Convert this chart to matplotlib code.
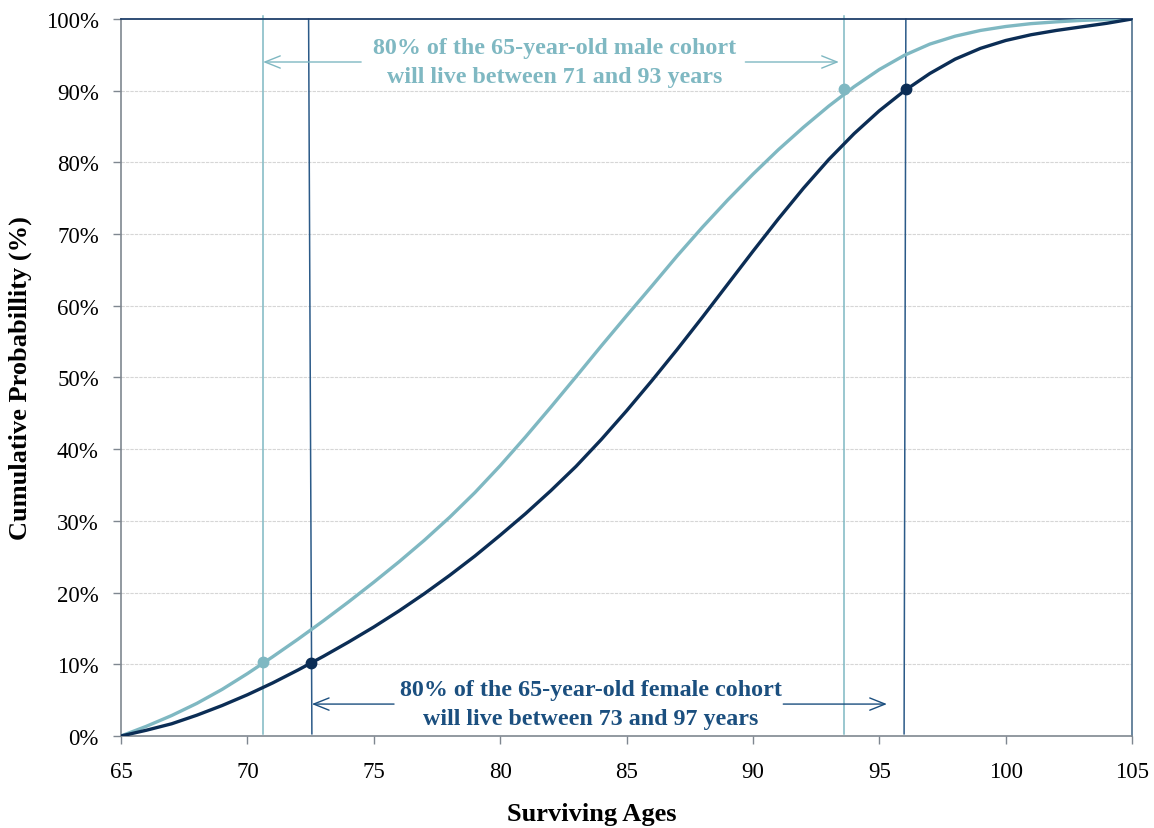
import numpy as np
import matplotlib.pyplot as plt
from matplotlib.ticker import FuncFormatter

plt.rcParams["font.family"] = ["Liberation Serif", "DejaVu Serif"]

LIGHT = "#7fb8c2"      # male cohort
DARK = "#0b2d55"       # female cohort
DARK_LINE = "#2b5a88"
FEMALE_TXT = "#1b4f7f"
GREY = "#7f8790"

ages = np.arange(65, 106)

male_cdf = [0.0, 1.35, 2.85, 4.55, 6.5, 8.7, 11.05, 13.5, 16.05, 18.7,
            21.45, 24.3, 27.3, 30.5, 33.95, 37.7, 41.7, 45.85, 50.1, 54.4,
            58.6, 62.75, 66.95, 70.95, 74.75, 78.35, 81.75, 84.9, 87.85, 90.55,
            92.95, 94.95, 96.5, 97.6, 98.4, 98.95, 99.35, 99.6, 99.8, 99.92,
            100.0]

female_cdf = [0.0, 0.8, 1.7, 2.9, 4.25, 5.75, 7.4, 9.2, 11.1, 13.1,
              15.2, 17.45, 19.85, 22.4, 25.1, 28.0, 31.0, 34.2, 37.6, 41.35,
              45.35, 49.55, 53.9, 58.4, 63.0, 67.6, 72.1, 76.4, 80.4, 84.0,
              87.2, 90.0, 92.4, 94.4, 95.9, 97.0, 97.8, 98.4, 98.9, 99.4,
              100.0]

male_pts_x = [70.6, 93.6]
male_pts_y = [10.3, 90.2]
female_pts_x = [72.5, 96.05]
female_pts_y = [10.2, 90.2]

# 10th / 90th percentile markers (bottom age, top age)
male_vlines = [(70.6, 70.6), (93.6, 93.6)]
female_vlines = [(72.55, 72.42), (95.98, 96.05)]

fig = plt.figure(figsize=(11.54, 8.29), dpi=100)
ax = fig.add_axes([0.1049, 0.111, 0.8761, 0.8649])

ax.set_xlim(65, 105)
ax.set_ylim(0, 100)
ax.set_xticks(range(65, 106, 5))
ax.set_yticks(range(0, 101, 10))
ax.yaxis.set_major_formatter(FuncFormatter(lambda v, p: f"{v:.0f}%"))

for y in range(10, 100, 10):
    ax.axhline(y, color="#d6d6d6", lw=0.8, ls=(0, (3, 1)), zorder=0)

for x0, x1 in male_vlines:
    ax.plot([x0, x1], [0.3, 100.4], color=LIGHT, lw=1.1, clip_on=False, zorder=2)
for x0, x1 in female_vlines:
    ax.plot([x0, x1], [0.3, 100.0], color=DARK_LINE, lw=1.1, clip_on=False, zorder=2)

ax.plot(ages, male_cdf, color=LIGHT, lw=2.4, zorder=3, solid_joinstyle="round")
ax.plot(ages, female_cdf, color=DARK, lw=2.4, zorder=4, solid_joinstyle="round")
ax.plot(male_pts_x, male_pts_y, "o", color=LIGHT, ms=7.5, zorder=5)
ax.plot(female_pts_x, female_pts_y, "o", color=DARK, ms=7.5, zorder=5)

# annotations
arrow_kw = dict(arrowstyle="->,head_length=0.5,head_width=0.2", lw=1.0,
                mutation_scale=22, shrinkA=0, shrinkB=0)
ax.annotate("", xy=(70.62, 94.0), xytext=(74.5, 94.0),
            arrowprops=dict(color=LIGHT, **arrow_kw))
ax.annotate("", xy=(93.4, 94.0), xytext=(89.7, 94.0),
            arrowprops=dict(color=LIGHT, **arrow_kw))
ax.text(82.15, 94.0, "80% of the 65-year-old male cohort\nwill live between 71 and 93 years",
        ha="center", va="center", color=LIGHT, fontsize=17.3, fontweight="bold",
        linespacing=1.55)

ax.annotate("", xy=(72.55, 4.45), xytext=(75.8, 4.45),
            arrowprops=dict(color=FEMALE_TXT, **arrow_kw))
ax.annotate("", xy=(95.3, 4.45), xytext=(91.2, 4.45),
            arrowprops=dict(color=FEMALE_TXT, **arrow_kw))
ax.text(83.6, 4.45, "80% of the 65-year-old female cohort\nwill live between 73 and 97 years",
        ha="center", va="center", color=FEMALE_TXT, fontsize=17.3, fontweight="bold",
        linespacing=1.55)

for side in ["left", "bottom"]:
    ax.spines[side].set_color(GREY)
    ax.spines[side].set_linewidth(1.2)
ax.spines["top"].set_color("#1f3f6a")
ax.spines["top"].set_linewidth(1.3)
ax.spines["right"].set_color("#5d7c96")
ax.spines["right"].set_linewidth(1.3)

ax.tick_params(axis="both", direction="out", length=6, width=1.0, color=GREY,
               labelsize=16.5, pad=10)
ax.tick_params(axis="x", pad=12)

ax.set_xlabel("Surviving Ages", fontsize=19, fontweight="bold", labelpad=12)
ax.xaxis.set_label_coords(0.466, -0.092)
ax.set_ylabel("Cumulative Probabillity (%)", fontsize=19, fontweight="bold", labelpad=10)

fig.savefig("out.png", dpi=100)
